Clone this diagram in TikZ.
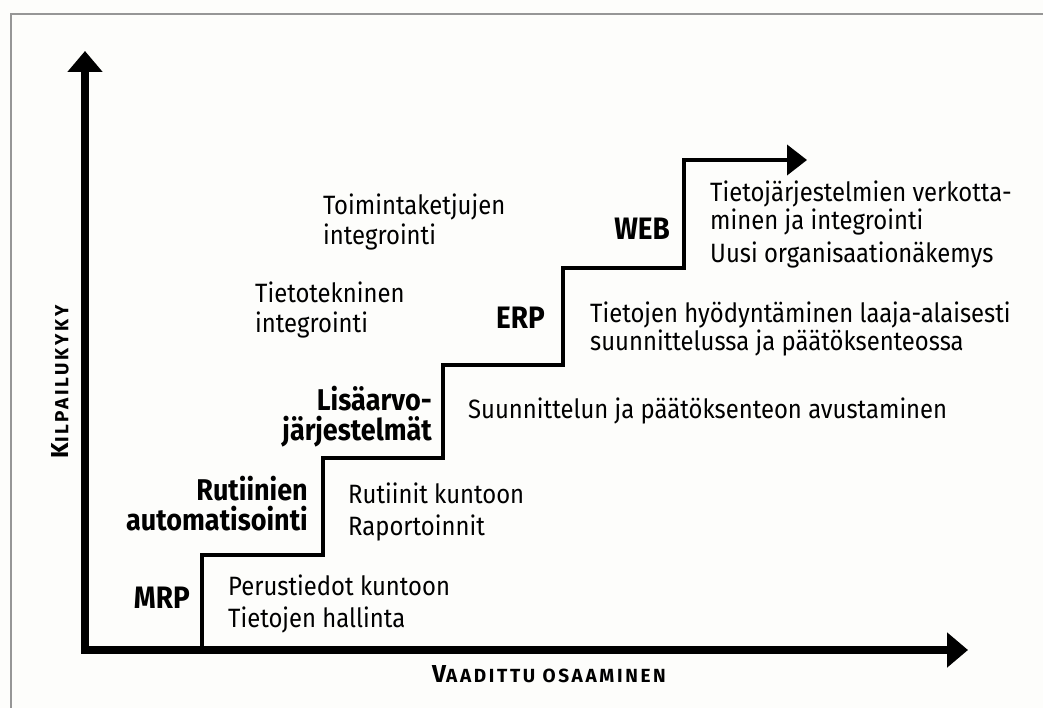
\documentclass[tikz,border=0pt]{standalone}
\usepackage{fontspec}
\setmainfont{Fira Sans}[FakeStretch=0.9]
\newfontfamily\axisfont{Fira Sans}[LetterSpace=14]
\usetikzlibrary{arrows.meta}
\definecolor{bg}{RGB}{253,253,251}
\definecolor{framegray}{RGB}{150,150,150}
\tikzset{
  txt/.style={inner sep=0pt, anchor=base west, align=left},
  lbl/.style={inner sep=0pt, anchor=base east, align=right, font=\bfseries\fontsize{30}{30}\selectfont},
  biglbl/.style={inner sep=0pt, anchor=base east, font=\bfseries\fontsize{31}{30}\selectfont},
  axisline/.style={line width=8pt, line join=miter, {Triangle[length=21pt,width=34pt]}-{Triangle[length=21pt,width=34pt]}},
  stairline/.style={line width=4pt, line join=miter, -{Triangle[length=20pt,width=30pt]}},
}
\begin{document}
\begin{tikzpicture}[x=1pt,y=-1pt]
\useasboundingbox (0,0) rectangle (1043,708);
\fill[bg] (0,0) rectangle (1043,708);
\draw[framegray, line width=2pt] (11,708) -- (11,14) -- (1043,14);

% axes
\coordinate (ytip) at (85,51);
\coordinate (origin) at (85,650);
\coordinate (xtip) at (968,650);
\draw[axisline] (ytip) -- (origin) -- (xtip);

% staircase
\coordinate (s0) at (202,650);
\coordinate (s1) at (202,555);
\coordinate (s2) at (323,555);
\coordinate (s3) at (323,458);
\coordinate (s4) at (443,458);
\coordinate (s5) at (443,365);
\coordinate (s6) at (563,365);
\coordinate (s7) at (563,268);
\coordinate (s8) at (684,268);
\coordinate (s9) at (684,160);
\coordinate (s10) at (807,160);
\draw[stairline] (s0) -- (s1) -- (s2) -- (s3) -- (s4) -- (s5) -- (s6) -- (s7) -- (s8) -- (s9) -- (s10);

% axis titles
\node[inner sep=0pt, rotate=90, font=\axisfont\bfseries] (ylab) at (60,382)
  {\fontsize{24.5}{24}\selectfont K\fontsize{19}{18}\selectfont ILPAILUKYKY};
\node[inner sep=0pt, anchor=base west, font=\axisfont\bfseries] (xlab) at (432,682)
  {\fontsize{24.5}{24}\selectfont V\fontsize{19}{18}\selectfont AADITTU OSAAMINEN};

% step labels
\node[biglbl] (mrp) at (190,608) {MRP};
\node[lbl] (rut) at (308,530) {Rutiinien\\automatisointi};
\node[lbl] (lis) at (432,440) {Lisäarvo-\\järjestelmät};
\node[biglbl] (erp) at (545,328) {ERP};
\node[biglbl] (web) at (670,240) {WEB};

% descriptions
\node[txt, font=\fontsize{26.5}{32}\selectfont] (d1) at (228,627) {Perustiedot kuntoon\\Tietojen hallinta};
\node[txt, font=\fontsize{26.5}{32}\selectfont] (d2) at (348,535) {Rutiinit kuntoon\\Raportoinnit};
\node[txt, font=\fontsize{26.5}{30}\selectfont] (d3) at (468,418) {Suunnittelun ja päätöksenteon avustaminen};
\node[txt, font=\fontsize{26.5}{25}\selectfont] (d4) at (590,350) {Tietojen hyödyntäminen laaja-alaisesti\\suunnittelussa ja päätöksenteossa};
\node[txt, font=\fontsize{26.5}{28}\selectfont] (d5) at (710,230) {Tietojärjestelmien verkotta-\\minen ja integrointi};
\node[txt, font=\fontsize{26.5}{28}\selectfont] (d6) at (710,263) {Uusi organisaationäkemys};
\node[txt, font=\fontsize{26.5}{30}\selectfont] (d7) at (323,245) {Toimintaketjujen\\integrointi};
\node[txt, font=\fontsize{26.5}{30}\selectfont] (d8) at (255,332) {Tietotekninen\\integrointi};
\end{tikzpicture}
\end{document}
